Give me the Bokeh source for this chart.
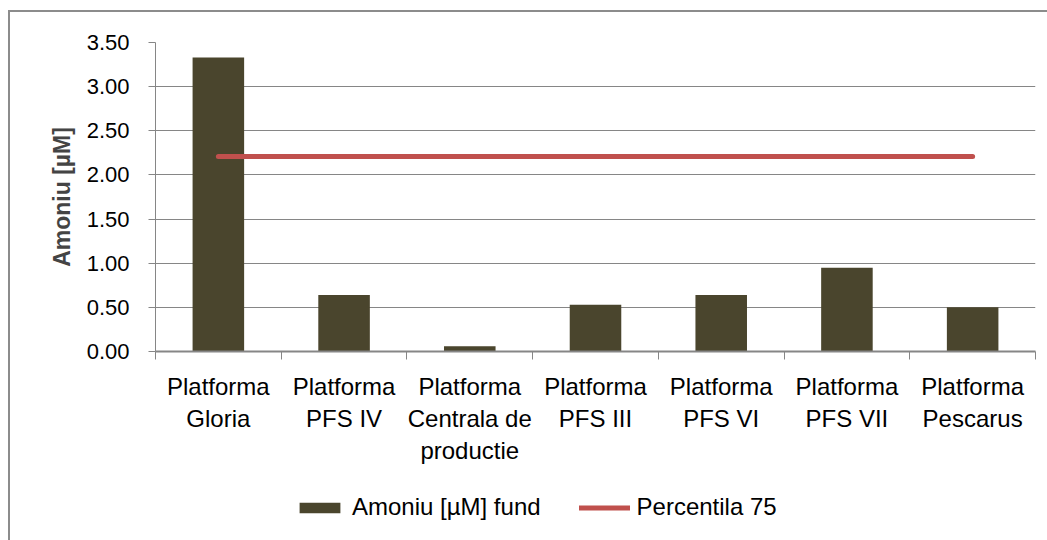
from bokeh.plotting import figure
from bokeh.layouts import column
from bokeh.models import (FactorRange, Range1d, LinearAxis, CategoricalAxis, FixedTicker,
                          Legend, LegendItem, NumeralTickFormatter, CustomJSTickFormatter)
from bokeh.embed import file_html
from bokeh.resources import INLINE

categories = ["Platforma\nGloria", "Platforma\nPFS IV", "Platforma\nCentrala de\nproductie",
              "Platforma\nPFS III", "Platforma\nPFS VI", "Platforma\nPFS VII", "Platforma\nPescarus"]
amoniu_fund = [3.33, 0.64, 0.06, 0.53, 0.64, 0.95, 0.50]
percentila_75 = [2.21, 2.21, 2.21, 2.21, 2.21, 2.21, 2.21]
y_ticks = [0.0, 0.5, 1.0, 1.5, 2.0, 2.5, 3.0, 3.5]
series_names = ["Amoniu [µM] fund", "Percentila 75"]

GRID = "#868686"
FONT = "Liberation Sans"
BAR_COLOR = "#4A452D"
LINE_COLOR = "#C0504D"

p = figure(frame_width=880, frame_height=309, x_range=FactorRange(factors=categories),
           y_range=Range1d(0, 3.5), output_backend="svg", toolbar_location=None,
           x_axis_location=None, y_axis_location=None,
           min_border_left=145, min_border_right=12, min_border_top=30, min_border_bottom=141)
p.outline_line_color = None

bars = p.vbar(x=categories, top=amoniu_fund, width=0.41, fill_color=BAR_COLOR, line_color=None)
line = p.line(x=categories, y=percentila_75, line_color=LINE_COLOR, line_width=5, line_cap="round")

# y axis
yax = LinearAxis(ticker=FixedTicker(ticks=y_ticks), formatter=NumeralTickFormatter(format="0.00"))
yax.axis_label = "Amoniu [µM]"
yax.axis_label_text_font = FONT
yax.axis_label_text_font_style = "bold"
yax.axis_label_text_font_size = "23px"
yax.axis_label_standoff = 9
yax.major_label_text_font = FONT
yax.major_label_text_font_size = "22px"
yax.major_label_text_color = "black"
yax.major_label_standoff = 19
yax.axis_line_color = GRID
yax.major_tick_line_color = GRID
yax.major_tick_out = 7
yax.major_tick_in = 0
yax.minor_tick_line_color = None
p.add_layout(yax, "left")

# x axis: tick marks between categories (synthetic category boundaries)
edge_ax = LinearAxis(ticker=FixedTicker(ticks=list(range(len(categories) + 1))),
                     formatter=CustomJSTickFormatter(code="return ''"))
edge_ax.major_label_standoff = 0
edge_ax.axis_line_color = GRID
edge_ax.axis_line_width = 2
edge_ax.major_tick_line_color = GRID
edge_ax.major_tick_out = 8
edge_ax.major_tick_in = 0
edge_ax.minor_tick_line_color = None
p.add_layout(edge_ax, "below")

cax = CategoricalAxis()
cax.axis_line_color = None
cax.major_tick_line_color = None
cax.major_label_text_font = FONT
cax.major_label_text_font_size = "24px"
cax.major_label_text_line_height = 1.2
cax.major_label_text_color = "black"
cax.major_label_standoff = 7
p.add_layout(cax, "below")

p.xgrid.visible = False
p.ygrid.ticker = FixedTicker(ticks=y_ticks)
p.ygrid.grid_line_color = GRID

# legend strip below the chart (its key renderers sit outside the strip's visible range)
lg = figure(width=1037, height=60, x_range=FactorRange(factors=categories),
            y_range=Range1d(100, 101), output_backend="svg", toolbar_location=None,
            x_axis_location=None, y_axis_location=None, min_border=0)
lg.outline_line_color = None
lg.xgrid.visible = False
lg.ygrid.visible = False
key_bar = lg.vbar(x=categories, top=amoniu_fund, width=0.41, fill_color=BAR_COLOR, line_color=None)
key_line = lg.line(x=categories, y=percentila_75, line_color=LINE_COLOR, line_width=5, line_cap="round")

legend = Legend(items=[LegendItem(label=series_names[0], renderers=[key_bar]),
                       LegendItem(label=series_names[1], renderers=[key_line])],
                orientation="horizontal", location=(139, 31))
legend.glyph_width = 51
legend.glyph_height = 13
legend.label_standoff = 7
legend.spacing = 38
legend.padding = 0
legend.margin = 0
legend.border_line_color = None
legend.background_fill_alpha = 0
legend.label_text_font = FONT
legend.label_text_font_size = "24px"
legend.label_text_color = "black"
lg.add_layout(legend, "center")

layout = column(p, lg, spacing=0)
layout.styles = {"margin-left": "8px", "margin-top": "10px",
                 "border-left": "2px solid #8c8c8c", "border-top": "2px solid #8c8c8c"}

open("out.html", "w").write(file_html(layout, INLINE))
